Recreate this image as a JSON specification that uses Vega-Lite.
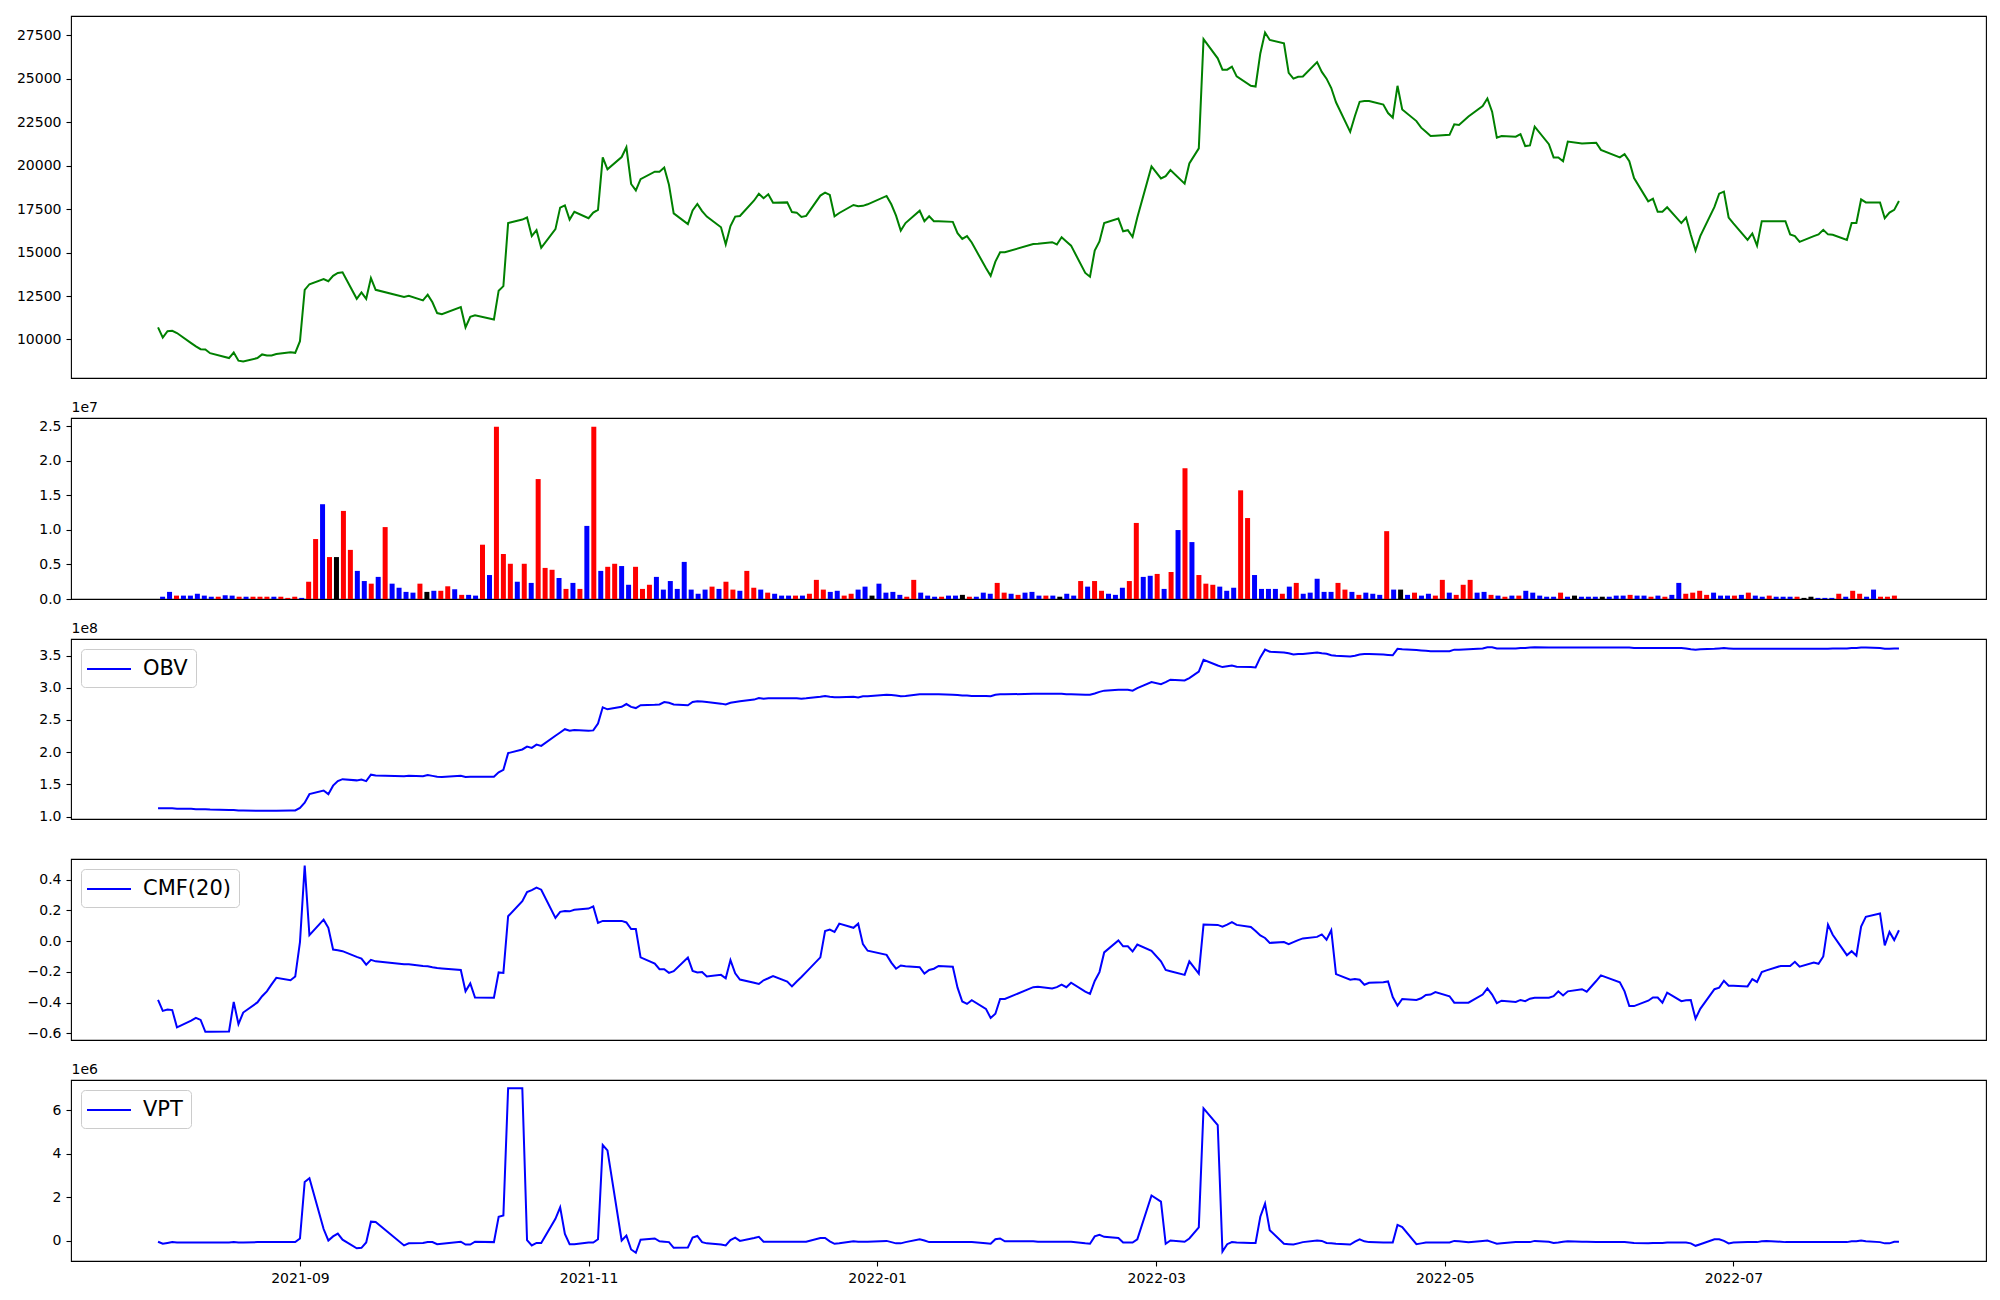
{
"$schema":"https://vega.github.io/schema/vega-lite/v6.json",
"padding":{"left":15,"top":15,"right":5,"bottom":5},
"background":"white",
"bounds":"flush",
"spacing":40,
"config":{"font":"DejaVu Sans","view":{"stroke":"#000000","strokeWidth":1.1},
"axis":{"grid":false,"domain":false,"tickColor":"#000000","tickSize":5,"tickWidth":1.1,"labelColor":"#000000","labelFont":"DejaVu Sans","labelFontSize":14,"labelPadding":5,"titleFont":"DejaVu Sans","titleFontSize":14,"titleFontWeight":"normal","titleColor":"#000000"},
"legend":{"labelFont":"DejaVu Sans","orient":"top-left","title":null,"offset":10,"padding":8,"symbolType":"M-2,0H2","symbolSize":484,"symbolOffset":8,"symbolStrokeWidth":2,"labelFontSize":21,"labelColor":"#000000","labelOffset":22,"fillColor":"rgba(255,255,255,0.8)","strokeColor":"#cccccc","cornerRadius":4}},
"resolve":{"scale":{"color":"independent"},"legend":{"color":"independent"}},
"datasets":{"d":[
{"date":"2021-08-02","idx":0,"close":10700,"volume":330000,"dir":"down","obv":112700000,"cmf":-0.383,"vpt":-38000},
{"date":"2021-08-03","idx":1,"close":10110,"volume":1030000,"dir":"down","obv":112700000,"cmf":-0.454,"vpt":-132000},
{"date":"2021-08-04","idx":2,"close":10480,"volume":490000,"dir":"up","obv":112700000,"cmf":-0.446,"vpt":-94000},
{"date":"2021-08-05","idx":3,"close":10500,"volume":490000,"dir":"down","obv":112700000,"cmf":-0.449,"vpt":-56000},
{"date":"2021-08-06","idx":4,"close":10370,"volume":490000,"dir":"down","obv":112100000,"cmf":-0.561,"vpt":-75000},
{"date":"2021-08-09","idx":5,"close":9790,"volume":760000,"dir":"down","obv":112100000,"cmf":-0.518,"vpt":-75000},
{"date":"2021-08-10","idx":6,"close":9600,"volume":490000,"dir":"down","obv":111400000,"cmf":-0.500,"vpt":-75000},
{"date":"2021-08-11","idx":7,"close":9440,"volume":330000,"dir":"down","obv":111400000,"cmf":-0.513,"vpt":-75000},
{"date":"2021-08-12","idx":8,"close":9420,"volume":330000,"dir":"up","obv":111400000,"cmf":-0.590,"vpt":-75000},
{"date":"2021-08-13","idx":9,"close":9210,"volume":540000,"dir":"down","obv":110800000,"cmf":-0.590,"vpt":-75000},
{"date":"2021-08-17","idx":10,"close":8930,"volume":490000,"dir":"down","obv":110200000,"cmf":-0.588,"vpt":-75000},
{"date":"2021-08-18","idx":11,"close":9250,"volume":330000,"dir":"up","obv":110200000,"cmf":-0.396,"vpt":-56000},
{"date":"2021-08-19","idx":12,"close":8780,"volume":330000,"dir":"down","obv":109500000,"cmf":-0.540,"vpt":-75000},
{"date":"2021-08-20","idx":13,"close":8730,"volume":330000,"dir":"up","obv":109500000,"cmf":-0.465,"vpt":-75000},
{"date":"2021-08-23","idx":14,"close":8930,"volume":330000,"dir":"up","obv":108900000,"cmf":-0.399,"vpt":-56000},
{"date":"2021-08-24","idx":15,"close":9140,"volume":330000,"dir":"up","obv":108900000,"cmf":-0.359,"vpt":-56000},
{"date":"2021-08-25","idx":16,"close":9080,"volume":330000,"dir":"down","obv":108900000,"cmf":-0.327,"vpt":-56000},
{"date":"2021-08-26","idx":17,"close":9080,"volume":330000,"dir":"up","obv":108900000,"cmf":-0.282,"vpt":-56000},
{"date":"2021-08-27","idx":18,"close":9160,"volume":160000,"dir":"up","obv":108900000,"cmf":-0.239,"vpt":-56000},
{"date":"2021-08-30","idx":19,"close":9270,"volume":330000,"dir":"up","obv":109500000,"cmf":-0.255,"vpt":-56000},
{"date":"2021-08-31","idx":20,"close":9230,"volume":160000,"dir":"down","obv":109500000,"cmf":-0.231,"vpt":-56000},
{"date":"2021-09-01","idx":21,"close":9900,"volume":2500000,"dir":"up","obv":113300000,"cmf":-0.007,"vpt":113000},
{"date":"2021-09-02","idx":22,"close":12860,"volume":8680000,"dir":"up","obv":121500000,"cmf":0.491,"vpt":2712000},
{"date":"2021-09-03","idx":23,"close":13180,"volume":13720000,"dir":"down","obv":134800000,"cmf":0.038,"vpt":2881000},
{"date":"2021-09-06","idx":24,"close":13480,"volume":6070000,"dir":"up","obv":140400000,"cmf":0.139,"vpt":546000},
{"date":"2021-09-07","idx":25,"close":13350,"volume":6070000,"dir":"flat","obv":134800000,"cmf":0.086,"vpt":19000},
{"date":"2021-09-08","idx":26,"close":13660,"volume":12750000,"dir":"up","obv":148000000,"cmf":-0.055,"vpt":207000},
{"date":"2021-09-09","idx":27,"close":13830,"volume":7110000,"dir":"up","obv":155000000,"cmf":-0.060,"vpt":339000},
{"date":"2021-09-10","idx":28,"close":13870,"volume":4070000,"dir":"down","obv":158100000,"cmf":-0.066,"vpt":56000},
{"date":"2021-09-13","idx":29,"close":12340,"volume":2600000,"dir":"down","obv":156200000,"cmf":-0.103,"vpt":-339000},
{"date":"2021-09-14","idx":30,"close":12710,"volume":2220000,"dir":"up","obv":157500000,"cmf":-0.114,"vpt":-320000},
{"date":"2021-09-15","idx":31,"close":12340,"volume":3200000,"dir":"down","obv":155000000,"cmf":-0.154,"vpt":-75000},
{"date":"2021-09-16","idx":32,"close":13530,"volume":10410000,"dir":"up","obv":165000000,"cmf":-0.122,"vpt":885000},
{"date":"2021-09-17","idx":33,"close":12860,"volume":2220000,"dir":"down","obv":163800000,"cmf":-0.132,"vpt":866000},
{"date":"2021-09-23","idx":34,"close":12450,"volume":1630000,"dir":"down","obv":162500000,"cmf":-0.151,"vpt":-207000},
{"date":"2021-09-24","idx":35,"close":12510,"volume":1030000,"dir":"down","obv":163200000,"cmf":-0.151,"vpt":-113000},
{"date":"2021-09-27","idx":36,"close":12250,"volume":920000,"dir":"down","obv":162500000,"cmf":-0.162,"vpt":-94000},
{"date":"2021-09-28","idx":37,"close":12580,"volume":2220000,"dir":"up","obv":164400000,"cmf":-0.164,"vpt":-56000},
{"date":"2021-09-29","idx":38,"close":12140,"volume":1030000,"dir":"flat","obv":163200000,"cmf":-0.170,"vpt":-56000},
{"date":"2021-09-30","idx":39,"close":11520,"volume":1190000,"dir":"down","obv":161900000,"cmf":-0.175,"vpt":-151000},
{"date":"2021-10-01","idx":40,"close":11450,"volume":1190000,"dir":"up","obv":161300000,"cmf":-0.178,"vpt":-132000},
{"date":"2021-10-05","idx":41,"close":11860,"volume":1840000,"dir":"up","obv":163200000,"cmf":-0.188,"vpt":-38000},
{"date":"2021-10-06","idx":42,"close":10700,"volume":1410000,"dir":"down","obv":161300000,"cmf":-0.327,"vpt":-169000},
{"date":"2021-10-07","idx":43,"close":11300,"volume":600000,"dir":"up","obv":161900000,"cmf":-0.276,"vpt":-169000},
{"date":"2021-10-08","idx":44,"close":11390,"volume":600000,"dir":"down","obv":161900000,"cmf":-0.367,"vpt":-38000},
{"date":"2021-10-12","idx":45,"close":11150,"volume":490000,"dir":"down","obv":161900000,"cmf":-0.369,"vpt":-56000},
{"date":"2021-10-13","idx":46,"close":12810,"volume":7860000,"dir":"up","obv":168800000,"cmf":-0.204,"vpt":1111000},
{"date":"2021-10-14","idx":47,"close":13070,"volume":3470000,"dir":"down","obv":172600000,"cmf":-0.207,"vpt":1168000},
{"date":"2021-10-15","idx":48,"close":16700,"volume":24950000,"dir":"up","obv":198500000,"cmf":0.161,"vpt":7024000},
{"date":"2021-10-18","idx":49,"close":16900,"volume":6510000,"dir":"up","obv":204200000,"cmf":0.259,"vpt":7024000},
{"date":"2021-10-19","idx":50,"close":17020,"volume":5100000,"dir":"up","obv":208600000,"cmf":0.318,"vpt":38000},
{"date":"2021-10-20","idx":51,"close":15950,"volume":2500000,"dir":"down","obv":206700000,"cmf":0.331,"vpt":-207000},
{"date":"2021-10-21","idx":52,"close":16290,"volume":5100000,"dir":"up","obv":211700000,"cmf":0.347,"vpt":-94000},
{"date":"2021-10-22","idx":53,"close":15280,"volume":2330000,"dir":"down","obv":209800000,"cmf":0.334,"vpt":-94000},
{"date":"2021-10-25","idx":54,"close":16350,"volume":17360000,"dir":"up","obv":225600000,"cmf":0.150,"vpt":1017000},
{"date":"2021-10-26","idx":55,"close":17590,"volume":4500000,"dir":"up","obv":230600000,"cmf":0.190,"vpt":1544000},
{"date":"2021-10-27","idx":56,"close":17720,"volume":4230000,"dir":"up","obv":235700000,"cmf":0.195,"vpt":320000},
{"date":"2021-10-28","idx":57,"close":16900,"volume":3040000,"dir":"down","obv":233200000,"cmf":0.193,"vpt":-151000},
{"date":"2021-10-29","idx":58,"close":17350,"volume":1460000,"dir":"up","obv":234400000,"cmf":0.203,"vpt":-151000},
{"date":"2021-11-01","idx":59,"close":16980,"volume":2330000,"dir":"down","obv":233200000,"cmf":0.211,"vpt":-75000},
{"date":"2021-11-02","idx":60,"close":17300,"volume":1460000,"dir":"up","obv":233800000,"cmf":0.225,"vpt":-75000},
{"date":"2021-11-03","idx":61,"close":17460,"volume":10580000,"dir":"down","obv":244500000,"cmf":0.118,"vpt":75000},
{"date":"2021-11-04","idx":62,"close":20480,"volume":24950000,"dir":"up","obv":269700000,"cmf":0.131,"vpt":4407000},
{"date":"2021-11-05","idx":63,"close":19790,"volume":4070000,"dir":"down","obv":266600000,"cmf":0.131,"vpt":4162000},
{"date":"2021-11-08","idx":64,"close":20500,"volume":4660000,"dir":"up","obv":270400000,"cmf":0.131,"vpt":19000},
{"date":"2021-11-09","idx":65,"close":21060,"volume":5100000,"dir":"up","obv":274800000,"cmf":0.121,"vpt":245000},
{"date":"2021-11-10","idx":66,"close":18950,"volume":4770000,"dir":"down","obv":270400000,"cmf":0.078,"vpt":-395000},
{"date":"2021-11-11","idx":67,"close":18580,"volume":2060000,"dir":"down","obv":268500000,"cmf":0.078,"vpt":-546000},
{"date":"2021-11-12","idx":68,"close":19230,"volume":4660000,"dir":"up","obv":272900000,"cmf":-0.106,"vpt":56000},
{"date":"2021-11-15","idx":69,"close":19660,"volume":1460000,"dir":"up","obv":273500000,"cmf":-0.146,"vpt":113000},
{"date":"2021-11-16","idx":70,"close":19660,"volume":2060000,"dir":"up","obv":274200000,"cmf":-0.183,"vpt":-19000},
{"date":"2021-11-17","idx":71,"close":19900,"volume":3200000,"dir":"down","obv":277900000,"cmf":-0.183,"vpt":-38000},
{"date":"2021-11-18","idx":72,"close":18900,"volume":1360000,"dir":"down","obv":276700000,"cmf":-0.207,"vpt":-56000},
{"date":"2021-11-19","idx":73,"close":17260,"volume":2600000,"dir":"down","obv":274200000,"cmf":-0.196,"vpt":-320000},
{"date":"2021-11-22","idx":74,"close":16640,"volume":1460000,"dir":"down","obv":272900000,"cmf":-0.108,"vpt":-301000},
{"date":"2021-11-23","idx":75,"close":17430,"volume":5370000,"dir":"down","obv":277900000,"cmf":-0.194,"vpt":151000},
{"date":"2021-11-24","idx":76,"close":17800,"volume":1360000,"dir":"down","obv":279200000,"cmf":-0.204,"vpt":226000},
{"date":"2021-11-25","idx":77,"close":17390,"volume":760000,"dir":"down","obv":278600000,"cmf":-0.202,"vpt":-56000},
{"date":"2021-11-26","idx":78,"close":17070,"volume":1360000,"dir":"down","obv":277900000,"cmf":-0.231,"vpt":-113000},
{"date":"2021-11-29","idx":79,"close":16460,"volume":1790000,"dir":"up","obv":275400000,"cmf":-0.220,"vpt":-169000},
{"date":"2021-11-30","idx":80,"close":15470,"volume":1460000,"dir":"down","obv":274200000,"cmf":-0.242,"vpt":-207000},
{"date":"2021-12-01","idx":81,"close":16530,"volume":2500000,"dir":"up","obv":276700000,"cmf":-0.124,"vpt":38000},
{"date":"2021-12-02","idx":82,"close":17070,"volume":1360000,"dir":"up","obv":277900000,"cmf":-0.210,"vpt":151000},
{"date":"2021-12-03","idx":83,"close":17110,"volume":1190000,"dir":"down","obv":279200000,"cmf":-0.250,"vpt":0},
{"date":"2021-12-06","idx":84,"close":18000,"volume":4070000,"dir":"up","obv":281700000,"cmf":-0.271,"vpt":132000},
{"date":"2021-12-07","idx":85,"close":18390,"volume":1630000,"dir":"up","obv":284200000,"cmf":-0.279,"vpt":188000},
{"date":"2021-12-08","idx":86,"close":18130,"volume":1360000,"dir":"down","obv":283000000,"cmf":-0.255,"vpt":-38000},
{"date":"2021-12-09","idx":87,"close":18360,"volume":920000,"dir":"up","obv":283600000,"cmf":-0.242,"vpt":-38000},
{"date":"2021-12-10","idx":88,"close":17870,"volume":760000,"dir":"down","obv":283600000,"cmf":-0.228,"vpt":-38000},
{"date":"2021-12-13","idx":89,"close":17890,"volume":490000,"dir":"down","obv":283600000,"cmf":-0.263,"vpt":-38000},
{"date":"2021-12-14","idx":90,"close":17330,"volume":490000,"dir":"down","obv":283600000,"cmf":-0.295,"vpt":-38000},
{"date":"2021-12-15","idx":91,"close":17300,"volume":490000,"dir":"up","obv":283600000,"cmf":-0.263,"vpt":-38000},
{"date":"2021-12-16","idx":92,"close":17050,"volume":490000,"dir":"down","obv":283000000,"cmf":-0.234,"vpt":-38000},
{"date":"2021-12-17","idx":93,"close":17110,"volume":760000,"dir":"up","obv":283600000,"cmf":-0.202,"vpt":-38000},
{"date":"2021-12-20","idx":94,"close":18280,"volume":2770000,"dir":"up","obv":286100000,"cmf":-0.106,"vpt":132000},
{"date":"2021-12-21","idx":95,"close":18450,"volume":1360000,"dir":"up","obv":287400000,"cmf":0.065,"vpt":132000},
{"date":"2021-12-22","idx":96,"close":18320,"volume":1030000,"dir":"down","obv":286100000,"cmf":0.075,"vpt":-19000},
{"date":"2021-12-23","idx":97,"close":17090,"volume":1190000,"dir":"down","obv":285500000,"cmf":0.059,"vpt":-132000},
{"date":"2021-12-24","idx":98,"close":17280,"volume":490000,"dir":"up","obv":285500000,"cmf":0.113,"vpt":-113000},
{"date":"2021-12-27","idx":99,"close":17740,"volume":760000,"dir":"up","obv":286100000,"cmf":0.086,"vpt":-19000},
{"date":"2021-12-28","idx":100,"close":17670,"volume":1360000,"dir":"down","obv":284900000,"cmf":0.113,"vpt":-38000},
{"date":"2021-12-29","idx":101,"close":17690,"volume":1790000,"dir":"down","obv":286800000,"cmf":-0.020,"vpt":-38000},
{"date":"2021-12-30","idx":102,"close":17780,"volume":490000,"dir":"flat","obv":286800000,"cmf":-0.063,"vpt":-38000},
{"date":"2022-01-03","idx":103,"close":18260,"volume":2220000,"dir":"down","obv":289300000,"cmf":-0.090,"vpt":0},
{"date":"2022-01-04","idx":104,"close":17780,"volume":920000,"dir":"down","obv":288700000,"cmf":-0.140,"vpt":-56000},
{"date":"2022-01-05","idx":105,"close":17130,"volume":1030000,"dir":"down","obv":288000000,"cmf":-0.180,"vpt":-113000},
{"date":"2022-01-06","idx":106,"close":16270,"volume":600000,"dir":"down","obv":286800000,"cmf":-0.159,"vpt":-113000},
{"date":"2022-01-07","idx":107,"close":16700,"volume":330000,"dir":"up","obv":287400000,"cmf":-0.164,"vpt":-56000},
{"date":"2022-01-10","idx":108,"close":17410,"volume":2770000,"dir":"up","obv":289900000,"cmf":-0.170,"vpt":75000},
{"date":"2022-01-11","idx":109,"close":16810,"volume":920000,"dir":"down","obv":289900000,"cmf":-0.212,"vpt":19000},
{"date":"2022-01-12","idx":110,"close":17090,"volume":490000,"dir":"down","obv":289900000,"cmf":-0.188,"vpt":-56000},
{"date":"2022-01-13","idx":111,"close":16810,"volume":330000,"dir":"down","obv":289900000,"cmf":-0.180,"vpt":-56000},
{"date":"2022-01-14","idx":112,"close":16810,"volume":330000,"dir":"up","obv":289900000,"cmf":-0.162,"vpt":-56000},
{"date":"2022-01-17","idx":113,"close":16770,"volume":490000,"dir":"down","obv":289300000,"cmf":-0.167,"vpt":-56000},
{"date":"2022-01-18","idx":114,"close":16120,"volume":490000,"dir":"down","obv":288700000,"cmf":-0.303,"vpt":-56000},
{"date":"2022-01-19","idx":115,"close":15790,"volume":600000,"dir":"flat","obv":288000000,"cmf":-0.393,"vpt":-56000},
{"date":"2022-01-20","idx":116,"close":15950,"volume":330000,"dir":"up","obv":288000000,"cmf":-0.409,"vpt":-56000},
{"date":"2022-01-21","idx":117,"close":15580,"volume":330000,"dir":"down","obv":287400000,"cmf":-0.385,"vpt":-56000},
{"date":"2022-01-24","idx":118,"close":14110,"volume":920000,"dir":"down","obv":287400000,"cmf":-0.441,"vpt":-113000},
{"date":"2022-01-25","idx":119,"close":13660,"volume":760000,"dir":"down","obv":286800000,"cmf":-0.500,"vpt":-132000},
{"date":"2022-01-26","idx":120,"close":14480,"volume":2330000,"dir":"up","obv":289300000,"cmf":-0.473,"vpt":75000},
{"date":"2022-01-27","idx":121,"close":15020,"volume":920000,"dir":"up","obv":289900000,"cmf":-0.377,"vpt":113000},
{"date":"2022-01-28","idx":122,"close":15020,"volume":760000,"dir":"down","obv":289900000,"cmf":-0.377,"vpt":-19000},
{"date":"2022-02-03","idx":123,"close":15490,"volume":600000,"dir":"up","obv":290600000,"cmf":-0.300,"vpt":-19000},
{"date":"2022-02-04","idx":124,"close":15510,"volume":920000,"dir":"down","obv":290600000,"cmf":-0.297,"vpt":-38000},
{"date":"2022-02-07","idx":125,"close":15600,"volume":1030000,"dir":"down","obv":290600000,"cmf":-0.308,"vpt":-38000},
{"date":"2022-02-08","idx":126,"close":15470,"volume":490000,"dir":"down","obv":290600000,"cmf":-0.300,"vpt":-38000},
{"date":"2022-02-09","idx":127,"close":15880,"volume":490000,"dir":"up","obv":290600000,"cmf":-0.284,"vpt":-38000},
{"date":"2022-02-10","idx":128,"close":15640,"volume":490000,"dir":"down","obv":289900000,"cmf":-0.300,"vpt":-38000},
{"date":"2022-02-11","idx":129,"close":15400,"volume":330000,"dir":"flat","obv":289900000,"cmf":-0.271,"vpt":-38000},
{"date":"2022-02-14","idx":130,"close":13830,"volume":760000,"dir":"down","obv":289300000,"cmf":-0.329,"vpt":-113000},
{"date":"2022-02-15","idx":131,"close":13610,"volume":490000,"dir":"down","obv":289300000,"cmf":-0.343,"vpt":-132000},
{"date":"2022-02-16","idx":132,"close":15120,"volume":2600000,"dir":"up","obv":291200000,"cmf":-0.260,"vpt":207000},
{"date":"2022-02-17","idx":133,"close":15640,"volume":1790000,"dir":"down","obv":293700000,"cmf":-0.202,"vpt":282000},
{"date":"2022-02-18","idx":134,"close":16700,"volume":2600000,"dir":"up","obv":295600000,"cmf":-0.074,"vpt":188000},
{"date":"2022-02-21","idx":135,"close":16960,"volume":1190000,"dir":"up","obv":296900000,"cmf":0.004,"vpt":132000},
{"date":"2022-02-22","idx":136,"close":16230,"volume":760000,"dir":"down","obv":296900000,"cmf":-0.034,"vpt":-75000},
{"date":"2022-02-23","idx":137,"close":16290,"volume":600000,"dir":"down","obv":296900000,"cmf":-0.034,"vpt":-75000},
{"date":"2022-02-24","idx":138,"close":15900,"volume":1630000,"dir":"down","obv":295600000,"cmf":-0.068,"vpt":-75000},
{"date":"2022-02-25","idx":139,"close":17020,"volume":2600000,"dir":"up","obv":299400000,"cmf":-0.023,"vpt":75000},
{"date":"2022-02-28","idx":140,"close":19960,"volume":11010000,"dir":"up","obv":308800000,"cmf":-0.063,"vpt":2090000},
{"date":"2022-03-02","idx":141,"close":19270,"volume":3200000,"dir":"down","obv":305700000,"cmf":-0.132,"vpt":1808000},
{"date":"2022-03-03","idx":142,"close":19400,"volume":3360000,"dir":"down","obv":308800000,"cmf":-0.188,"vpt":-132000},
{"date":"2022-03-04","idx":143,"close":19750,"volume":3630000,"dir":"up","obv":312600000,"cmf":-0.196,"vpt":19000},
{"date":"2022-03-07","idx":144,"close":18970,"volume":1460000,"dir":"down","obv":311400000,"cmf":-0.220,"vpt":-38000},
{"date":"2022-03-08","idx":145,"close":20130,"volume":3910000,"dir":"up","obv":315200000,"cmf":-0.132,"vpt":113000},
{"date":"2022-03-10","idx":146,"close":21000,"volume":9980000,"dir":"down","obv":325200000,"cmf":-0.212,"vpt":621000},
{"date":"2022-03-11","idx":147,"close":27280,"volume":18930000,"dir":"up","obv":343500000,"cmf":0.107,"vpt":6102000},
{"date":"2022-03-14","idx":148,"close":26180,"volume":8240000,"dir":"down","obv":334700000,"cmf":0.105,"vpt":5329000},
{"date":"2022-03-15","idx":149,"close":25530,"volume":3470000,"dir":"up","obv":332200000,"cmf":0.094,"vpt":-490000},
{"date":"2022-03-16","idx":150,"close":25530,"volume":2220000,"dir":"up","obv":333400000,"cmf":0.107,"vpt":-151000},
{"date":"2022-03-17","idx":151,"close":25700,"volume":2060000,"dir":"up","obv":334700000,"cmf":0.123,"vpt":-56000},
{"date":"2022-03-18","idx":152,"close":25140,"volume":1790000,"dir":"down","obv":332800000,"cmf":0.105,"vpt":-75000},
{"date":"2022-03-21","idx":153,"close":24600,"volume":1190000,"dir":"down","obv":332200000,"cmf":0.091,"vpt":-94000},
{"date":"2022-03-22","idx":154,"close":24560,"volume":1630000,"dir":"down","obv":331500000,"cmf":0.065,"vpt":-94000},
{"date":"2022-03-23","idx":155,"close":26460,"volume":15730000,"dir":"up","obv":347300000,"cmf":0.036,"vpt":1111000},
{"date":"2022-03-24","idx":156,"close":27670,"volume":11720000,"dir":"up","obv":359300000,"cmf":0.020,"vpt":1714000},
{"date":"2022-03-25","idx":157,"close":27240,"volume":3470000,"dir":"down","obv":356100000,"cmf":-0.012,"vpt":490000},
{"date":"2022-03-28","idx":158,"close":27040,"volume":1460000,"dir":"down","obv":354900000,"cmf":-0.007,"vpt":-132000},
{"date":"2022-03-29","idx":159,"close":25340,"volume":1460000,"dir":"down","obv":353600000,"cmf":-0.020,"vpt":-151000},
{"date":"2022-03-30","idx":160,"close":25010,"volume":1460000,"dir":"down","obv":351700000,"cmf":-0.007,"vpt":-169000},
{"date":"2022-03-31","idx":161,"close":25120,"volume":760000,"dir":"up","obv":352400000,"cmf":0.006,"vpt":-113000},
{"date":"2022-04-01","idx":162,"close":25140,"volume":1790000,"dir":"down","obv":352400000,"cmf":0.017,"vpt":-56000},
{"date":"2022-04-04","idx":163,"close":25960,"volume":2330000,"dir":"up","obv":354900000,"cmf":0.027,"vpt":19000},
{"date":"2022-04-05","idx":164,"close":25400,"volume":760000,"dir":"down","obv":353600000,"cmf":0.043,"vpt":0},
{"date":"2022-04-06","idx":165,"close":25010,"volume":920000,"dir":"down","obv":353000000,"cmf":0.009,"vpt":-94000},
{"date":"2022-04-07","idx":166,"close":24470,"volume":2930000,"dir":"down","obv":350500000,"cmf":0.070,"vpt":-113000},
{"date":"2022-04-08","idx":167,"close":23650,"volume":1030000,"dir":"down","obv":349800000,"cmf":-0.215,"vpt":-132000},
{"date":"2022-04-11","idx":168,"close":21950,"volume":1030000,"dir":"down","obv":348600000,"cmf":-0.252,"vpt":-169000},
{"date":"2022-04-12","idx":169,"close":22860,"volume":2330000,"dir":"up","obv":349800000,"cmf":-0.247,"vpt":-38000},
{"date":"2022-04-13","idx":170,"close":23680,"volume":1360000,"dir":"up","obv":351700000,"cmf":-0.252,"vpt":75000},
{"date":"2022-04-14","idx":171,"close":23720,"volume":1030000,"dir":"down","obv":352400000,"cmf":-0.284,"vpt":-19000},
{"date":"2022-04-15","idx":172,"close":23720,"volume":600000,"dir":"up","obv":352400000,"cmf":-0.271,"vpt":-56000},
{"date":"2022-04-18","idx":173,"close":23520,"volume":920000,"dir":"down","obv":351700000,"cmf":-0.268,"vpt":-75000},
{"date":"2022-04-19","idx":174,"close":23030,"volume":760000,"dir":"down","obv":351100000,"cmf":-0.263,"vpt":-75000},
{"date":"2022-04-20","idx":175,"close":22770,"volume":600000,"dir":"down","obv":350500000,"cmf":-0.364,"vpt":-75000},
{"date":"2022-04-21","idx":176,"close":24600,"volume":9820000,"dir":"up","obv":360600000,"cmf":-0.420,"vpt":734000},
{"date":"2022-04-22","idx":177,"close":23240,"volume":1360000,"dir":"down","obv":359900000,"cmf":-0.377,"vpt":640000},
{"date":"2022-04-25","idx":178,"close":22570,"volume":1360000,"dir":"flat","obv":358700000,"cmf":-0.383,"vpt":-151000},
{"date":"2022-04-26","idx":179,"close":22190,"volume":600000,"dir":"down","obv":358000000,"cmf":-0.372,"vpt":-113000},
{"date":"2022-04-27","idx":180,"close":21950,"volume":920000,"dir":"up","obv":357400000,"cmf":-0.351,"vpt":-75000},
{"date":"2022-04-28","idx":181,"close":21710,"volume":490000,"dir":"down","obv":356800000,"cmf":-0.348,"vpt":-75000},
{"date":"2022-04-29","idx":182,"close":21730,"volume":760000,"dir":"down","obv":356800000,"cmf":-0.332,"vpt":-75000},
{"date":"2022-05-02","idx":183,"close":21780,"volume":490000,"dir":"up","obv":356800000,"cmf":-0.359,"vpt":-75000},
{"date":"2022-05-03","idx":184,"close":22380,"volume":2770000,"dir":"up","obv":359300000,"cmf":-0.401,"vpt":0},
{"date":"2022-05-04","idx":185,"close":22340,"volume":920000,"dir":"down","obv":359300000,"cmf":-0.401,"vpt":-19000},
{"date":"2022-05-06","idx":186,"close":22830,"volume":600000,"dir":"up","obv":359900000,"cmf":-0.401,"vpt":-56000},
{"date":"2022-05-09","idx":187,"close":23440,"volume":2060000,"dir":"up","obv":361200000,"cmf":-0.348,"vpt":0},
{"date":"2022-05-10","idx":188,"close":23870,"volume":2770000,"dir":"up","obv":363100000,"cmf":-0.308,"vpt":19000},
{"date":"2022-05-11","idx":189,"close":23110,"volume":920000,"dir":"down","obv":363100000,"cmf":-0.348,"vpt":-56000},
{"date":"2022-05-12","idx":190,"close":21620,"volume":1030000,"dir":"down","obv":361200000,"cmf":-0.404,"vpt":-132000},
{"date":"2022-05-13","idx":191,"close":21710,"volume":600000,"dir":"up","obv":361200000,"cmf":-0.388,"vpt":-113000},
{"date":"2022-05-16","idx":192,"close":21670,"volume":490000,"dir":"down","obv":361200000,"cmf":-0.396,"vpt":-56000},
{"date":"2022-05-17","idx":193,"close":21820,"volume":330000,"dir":"up","obv":361800000,"cmf":-0.383,"vpt":-56000},
{"date":"2022-05-18","idx":194,"close":21130,"volume":490000,"dir":"down","obv":361800000,"cmf":-0.391,"vpt":-56000},
{"date":"2022-05-19","idx":195,"close":21170,"volume":490000,"dir":"up","obv":362500000,"cmf":-0.375,"vpt":-56000},
{"date":"2022-05-20","idx":196,"close":22250,"volume":1190000,"dir":"down","obv":363100000,"cmf":-0.369,"vpt":0},
{"date":"2022-05-23","idx":197,"close":21240,"volume":920000,"dir":"down","obv":362500000,"cmf":-0.369,"vpt":-38000},
{"date":"2022-05-24","idx":198,"close":20480,"volume":490000,"dir":"down","obv":362500000,"cmf":-0.359,"vpt":-94000},
{"date":"2022-05-25","idx":199,"close":20480,"volume":330000,"dir":"down","obv":362500000,"cmf":-0.327,"vpt":-75000},
{"date":"2022-05-26","idx":200,"close":20260,"volume":330000,"dir":"down","obv":362500000,"cmf":-0.354,"vpt":-38000},
{"date":"2022-05-27","idx":201,"close":21390,"volume":920000,"dir":"up","obv":362500000,"cmf":-0.327,"vpt":-19000},
{"date":"2022-05-30","idx":202,"close":21280,"volume":330000,"dir":"down","obv":362500000,"cmf":-0.313,"vpt":-38000},
{"date":"2022-05-31","idx":203,"close":21300,"volume":490000,"dir":"flat","obv":362500000,"cmf":-0.329,"vpt":-38000},
{"date":"2022-06-02","idx":204,"close":21320,"volume":330000,"dir":"down","obv":362500000,"cmf":-0.260,"vpt":-56000},
{"date":"2022-06-03","idx":205,"close":20910,"volume":330000,"dir":"down","obv":362500000,"cmf":-0.223,"vpt":-56000},
{"date":"2022-06-07","idx":206,"close":20480,"volume":330000,"dir":"down","obv":362500000,"cmf":-0.268,"vpt":-56000},
{"date":"2022-06-08","idx":207,"close":20670,"volume":330000,"dir":"flat","obv":362500000,"cmf":-0.327,"vpt":-56000},
{"date":"2022-06-09","idx":208,"close":20260,"volume":330000,"dir":"down","obv":362500000,"cmf":-0.423,"vpt":-75000},
{"date":"2022-06-10","idx":209,"close":19290,"volume":490000,"dir":"down","obv":361800000,"cmf":-0.423,"vpt":-94000},
{"date":"2022-06-13","idx":210,"close":17950,"volume":490000,"dir":"down","obv":361800000,"cmf":-0.388,"vpt":-113000},
{"date":"2022-06-14","idx":211,"close":18100,"volume":600000,"dir":"up","obv":361800000,"cmf":-0.367,"vpt":-94000},
{"date":"2022-06-15","idx":212,"close":17350,"volume":490000,"dir":"down","obv":361800000,"cmf":-0.367,"vpt":-94000},
{"date":"2022-06-16","idx":213,"close":17350,"volume":490000,"dir":"down","obv":361800000,"cmf":-0.401,"vpt":-94000},
{"date":"2022-06-17","idx":214,"close":17610,"volume":330000,"dir":"up","obv":361800000,"cmf":-0.335,"vpt":-75000},
{"date":"2022-06-20","idx":215,"close":16700,"volume":490000,"dir":"down","obv":361800000,"cmf":-0.391,"vpt":-75000},
{"date":"2022-06-21","idx":216,"close":17020,"volume":330000,"dir":"up","obv":361200000,"cmf":-0.385,"vpt":-75000},
{"date":"2022-06-22","idx":217,"close":16030,"volume":600000,"dir":"down","obv":359900000,"cmf":-0.383,"vpt":-113000},
{"date":"2022-06-23","idx":218,"close":15120,"volume":2330000,"dir":"down","obv":359300000,"cmf":-0.505,"vpt":-226000},
{"date":"2022-06-24","idx":219,"close":15950,"volume":760000,"dir":"up","obv":359900000,"cmf":-0.441,"vpt":-151000},
{"date":"2022-06-27","idx":220,"close":17630,"volume":920000,"dir":"up","obv":360600000,"cmf":-0.313,"vpt":75000},
{"date":"2022-06-28","idx":221,"close":18390,"volume":1190000,"dir":"up","obv":361200000,"cmf":-0.303,"vpt":75000},
{"date":"2022-06-29","idx":222,"close":18510,"volume":600000,"dir":"up","obv":361800000,"cmf":-0.258,"vpt":0},
{"date":"2022-06-30","idx":223,"close":17020,"volume":920000,"dir":"down","obv":361200000,"cmf":-0.290,"vpt":-113000},
{"date":"2022-07-01","idx":224,"close":16680,"volume":490000,"dir":"down","obv":360600000,"cmf":-0.290,"vpt":-75000},
{"date":"2022-07-04","idx":225,"close":15730,"volume":490000,"dir":"down","obv":360600000,"cmf":-0.295,"vpt":-56000},
{"date":"2022-07-05","idx":226,"close":16100,"volume":490000,"dir":"up","obv":360600000,"cmf":-0.247,"vpt":-56000},
{"date":"2022-07-06","idx":227,"close":15400,"volume":600000,"dir":"down","obv":360600000,"cmf":-0.266,"vpt":-56000},
{"date":"2022-07-07","idx":228,"close":16810,"volume":920000,"dir":"up","obv":360600000,"cmf":-0.202,"vpt":-19000},
{"date":"2022-07-08","idx":229,"close":16810,"volume":490000,"dir":"down","obv":360600000,"cmf":-0.191,"vpt":0},
{"date":"2022-07-11","idx":230,"close":16810,"volume":330000,"dir":"down","obv":360600000,"cmf":-0.162,"vpt":-38000},
{"date":"2022-07-12","idx":231,"close":16810,"volume":490000,"dir":"up","obv":360600000,"cmf":-0.162,"vpt":-56000},
{"date":"2022-07-13","idx":232,"close":16050,"volume":330000,"dir":"down","obv":360600000,"cmf":-0.162,"vpt":-56000},
{"date":"2022-07-14","idx":233,"close":15950,"volume":330000,"dir":"down","obv":360600000,"cmf":-0.135,"vpt":-56000},
{"date":"2022-07-15","idx":234,"close":15620,"volume":330000,"dir":"down","obv":360600000,"cmf":-0.167,"vpt":-56000},
{"date":"2022-07-18","idx":235,"close":15950,"volume":330000,"dir":"up","obv":360600000,"cmf":-0.140,"vpt":-56000},
{"date":"2022-07-19","idx":236,"close":16050,"volume":160000,"dir":"flat","obv":360600000,"cmf":-0.148,"vpt":-56000},
{"date":"2022-07-20","idx":237,"close":16310,"volume":330000,"dir":"flat","obv":360600000,"cmf":-0.100,"vpt":-56000},
{"date":"2022-07-21","idx":238,"close":16050,"volume":160000,"dir":"down","obv":360600000,"cmf":0.107,"vpt":-56000},
{"date":"2022-07-22","idx":239,"close":16030,"volume":160000,"dir":"down","obv":361200000,"cmf":0.041,"vpt":-56000},
{"date":"2022-07-25","idx":240,"close":15730,"volume":160000,"dir":"down","obv":361200000,"cmf":-0.092,"vpt":-56000},
{"date":"2022-07-26","idx":241,"close":16700,"volume":760000,"dir":"up","obv":361800000,"cmf":-0.066,"vpt":-19000},
{"date":"2022-07-27","idx":242,"close":16700,"volume":330000,"dir":"down","obv":361800000,"cmf":-0.095,"vpt":-19000},
{"date":"2022-07-28","idx":243,"close":18060,"volume":1190000,"dir":"up","obv":362500000,"cmf":0.094,"vpt":19000},
{"date":"2022-07-29","idx":244,"close":17890,"volume":760000,"dir":"up","obv":362500000,"cmf":0.158,"vpt":-19000},
{"date":"2022-08-01","idx":245,"close":17890,"volume":330000,"dir":"down","obv":361800000,"cmf":0.179,"vpt":-56000},
{"date":"2022-08-02","idx":246,"close":16980,"volume":1360000,"dir":"down","obv":360600000,"cmf":-0.028,"vpt":-113000},
{"date":"2022-08-03","idx":247,"close":17300,"volume":330000,"dir":"up","obv":360600000,"cmf":0.059,"vpt":-113000},
{"date":"2022-08-04","idx":248,"close":17460,"volume":330000,"dir":"up","obv":361200000,"cmf":0.006,"vpt":-38000},
{"date":"2022-08-05","idx":249,"close":17970,"volume":490000,"dir":"up","obv":361200000,"cmf":0.070,"vpt":-38000}
]},
"vconcat":[
{"width":1915,"height":362,"data":{"name":"d"},
 "mark":{"type":"line","color":"#008000","strokeWidth":2},
 "encoding":{
  "x":{"field":"date","type":"temporal","scale":{"type":"utc","domain":[{"year":2021,"month":7,"date":14,"hours":14,"minutes":24,"utc":true},{"year":2022,"month":8,"date":23,"hours":9,"minutes":36,"utc":true}]},"axis":null},
  "y":{"field":"close","type":"quantitative","scale":{"domain":[7783,28617],"zero":false,"nice":false},"axis":{"values":[10000,12500,15000,17500,20000,22500,25000,27500],"format":"d","title":null}}}},
{"width":1915,"height":181,"data":{"name":"d"},
 "mark":{"type":"bar","size":5,"orient":"vertical"},
 "encoding":{
  "x":{"field":"idx","type":"quantitative","scale":{"domain":[-12.45,261.45],"zero":false,"nice":false},"axis":null},
  "y":{"field":"volume","type":"quantitative","stack":null,"scale":{"domain":[0,26200000],"nice":false},"axis":{"values":[0,5000000,10000000,15000000,20000000,25000000],"labelExpr":"format(datum.value/10000000,'.1f')","title":"1e7","titleAngle":0,"titleAlign":"left","titleBaseline":"bottom","titleX":0,"titleY":-4}},
  "color":{"field":"dir","type":"nominal","scale":{"domain":["up","down","flat"],"range":["#ff0000","#0000ff","#000000"]},"legend":null}}},
{"width":1915,"height":180,"data":{"name":"d"},
 "mark":{"type":"line","strokeWidth":2},
 "encoding":{
  "x":{"field":"date","type":"temporal","scale":{"type":"utc","domain":[{"year":2021,"month":7,"date":14,"hours":14,"minutes":24,"utc":true},{"year":2022,"month":8,"date":23,"hours":9,"minutes":36,"utc":true}]},"axis":null},
  "y":{"field":"obv","type":"quantitative","scale":{"domain":[96190000,375810000],"zero":false,"nice":false},"axis":{"values":[100000000,150000000,200000000,250000000,300000000,350000000],"labelExpr":"format(datum.value/100000000,'.1f')","title":"1e8","titleAngle":0,"titleAlign":"left","titleBaseline":"bottom","titleX":0,"titleY":-4}},
  "color":{"datum":"OBV","type":"nominal","scale":{"domain":["OBV"],"range":["#0000ff"]},"legend":{}}}},
{"width":1915,"height":181,"data":{"name":"d"},
 "mark":{"type":"line","strokeWidth":2},
 "encoding":{
  "x":{"field":"date","type":"temporal","scale":{"type":"utc","domain":[{"year":2021,"month":7,"date":14,"hours":14,"minutes":24,"utc":true},{"year":2022,"month":8,"date":23,"hours":9,"minutes":36,"utc":true}]},"axis":null},
  "y":{"field":"cmf","type":"quantitative","scale":{"domain":[-0.6435,0.5335],"zero":false,"nice":false},"axis":{"values":[-0.6,-0.4,-0.2,0,0.2,0.4],"format":".1f","title":null}},
  "color":{"datum":"CMF(20)","type":"nominal","scale":{"domain":["CMF(20)"],"range":["#0000ff"]},"legend":{}}}},
{"width":1915,"height":181,"data":{"name":"d"},
 "mark":{"type":"line","strokeWidth":2},
 "encoding":{
  "x":{"field":"date","type":"temporal","scale":{"type":"utc","domain":[{"year":2021,"month":7,"date":14,"hours":14,"minutes":24,"utc":true},{"year":2022,"month":8,"date":23,"hours":9,"minutes":36,"utc":true}]},"axis":{"values":[{"year":2021,"month":9,"date":1,"utc":true},{"year":2021,"month":11,"date":1,"utc":true},{"year":2022,"month":1,"date":1,"utc":true},{"year":2022,"month":3,"date":1,"utc":true},{"year":2022,"month":5,"date":1,"utc":true},{"year":2022,"month":7,"date":1,"utc":true}],"labelExpr":"utcFormat(datum.value,'%Y-%m')","title":null,"labelFontSize":14}},
  "y":{"field":"vpt","type":"quantitative","scale":{"domain":[-924500,7402500],"zero":false,"nice":false},"axis":{"values":[0,2000000,4000000,6000000],"labelExpr":"format(datum.value/1000000,'d')","title":"1e6","titleAngle":0,"titleAlign":"left","titleBaseline":"bottom","titleX":0,"titleY":-4}},
  "color":{"datum":"VPT","type":"nominal","scale":{"domain":["VPT"],"range":["#0000ff"]},"legend":{}}}}
]
}
